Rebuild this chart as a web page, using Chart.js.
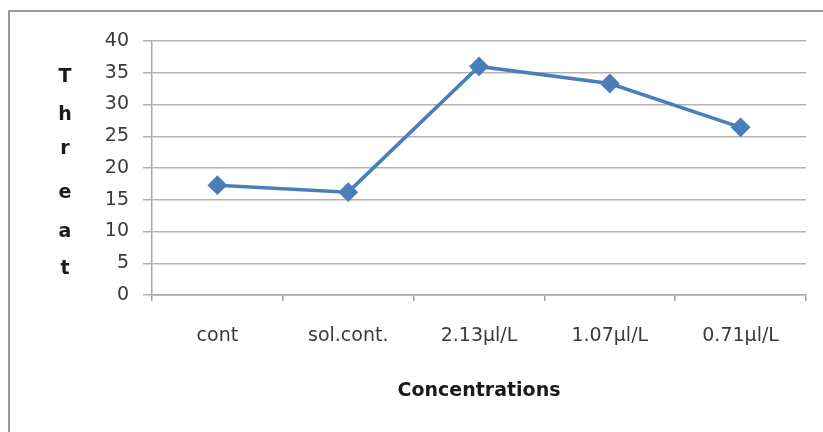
<!DOCTYPE html>
<html>
<head>
<meta charset="utf-8">
<script src="https://cdn.jsdelivr.net/npm/chart.js@4"></script>
<style>
html,body{margin:0;padding:0;background:#fff;}
#wrap{width:823px;height:432px;position:relative;}
</style>
</head>
<body>
<div id="wrap"><canvas id="c" width="823" height="432"></canvas></div>
<script>
const categories = ['cont', 'sol.cont.', '2.13\u03bcl/L', '1.07\u03bcl/L', '0.71\u03bcl/L'];
const threatValues = [17.3, 16.2, 36.0, 33.3, 26.4];
const yTicks = [0, 5, 10, 15, 20, 25, 30, 35, 40];
const yTitle = 'Threat';
const xTitle = 'Concentrations';

const framePlugin = {
  id: 'frame',
  beforeDraw(chart) {
    const ctx = chart.ctx;
    ctx.save();
    ctx.fillStyle = '#fff';
    ctx.fillRect(0, 0, chart.width, chart.height);
    ctx.strokeStyle = '#9a9a9a';
    ctx.lineWidth = 2;
    ctx.beginPath();
    ctx.moveTo(9, chart.height);
    ctx.lineTo(9, 11);
    ctx.lineTo(chart.width, 11);
    ctx.stroke();
    ctx.restore();
  }
};

const stackedTitlePlugin = {
  id: 'stackedTitle',
  afterDraw(chart) {
    const ctx = chart.ctx;
    ctx.save();
    ctx.font = 'bold 19px "DejaVu Sans"';
    ctx.fillStyle = '#1a1a1a';
    ctx.textAlign = 'center';
    ctx.textBaseline = 'middle';
    const letters = yTitle.split('');
    const ys = [77, 115, 149, 193, 232, 269];
    letters.forEach((ch, i) => ctx.fillText(ch, 65, ys[i]));
    ctx.restore();
  }
};

new Chart(document.getElementById('c'), {
  type: 'line',
  data: {
    labels: categories,
    datasets: [{
      data: threatValues,
      borderColor: '#4a7ebb',
      backgroundColor: '#4a7ebb',
      borderWidth: 3.5,
      pointStyle: 'rectRot',
      pointRadius: 7.5,
      pointHoverRadius: 7.5,
      tension: 0
    }]
  },
  options: {
    responsive: false,
    animation: false,
    devicePixelRatio: 1,
    layout: { padding: { top: 41, right: 17, left: 0, bottom: 0 } },
    plugins: { legend: { display: false }, tooltip: { enabled: false } },
    scales: {
      x: {
        offset: true,
        grid: { display: true, drawOnChartArea: false, drawTicks: true, tickLength: 6, color: '#a0a0a0', lineWidth: 1.5, offset: true },
        border: { display: true, color: '#a8a8a8', width: 1.5 },
        ticks: { color: '#3a3a3a', font: { family: 'DejaVu Sans', size: 19 }, padding: 24, maxRotation: 0 },
        title: { display: true, text: xTitle, color: '#1a1a1a', font: { family: 'DejaVu Sans', size: 19, weight: 'bold' }, padding: { top: 14, bottom: 30 } },
        afterFit(scale) { scale.height = 137; }
      },
      y: {
        min: 0, max: 40,
        afterBuildTicks(scale) { scale.ticks = yTicks.map(v => ({ value: v })); },
        grid: { color: '#b3b3b3', lineWidth: 1.5, tickLength: 9 },
        border: { display: true, color: '#a8a8a8', width: 1.5 },
        ticks: { color: '#3a3a3a', font: { family: 'DejaVu Sans', size: 19 }, padding: 14 },
        afterFit(scale) { scale.width = 152; }
      }
    }
  },
  plugins: [framePlugin, stackedTitlePlugin]
});
</script>
</body>
</html>
